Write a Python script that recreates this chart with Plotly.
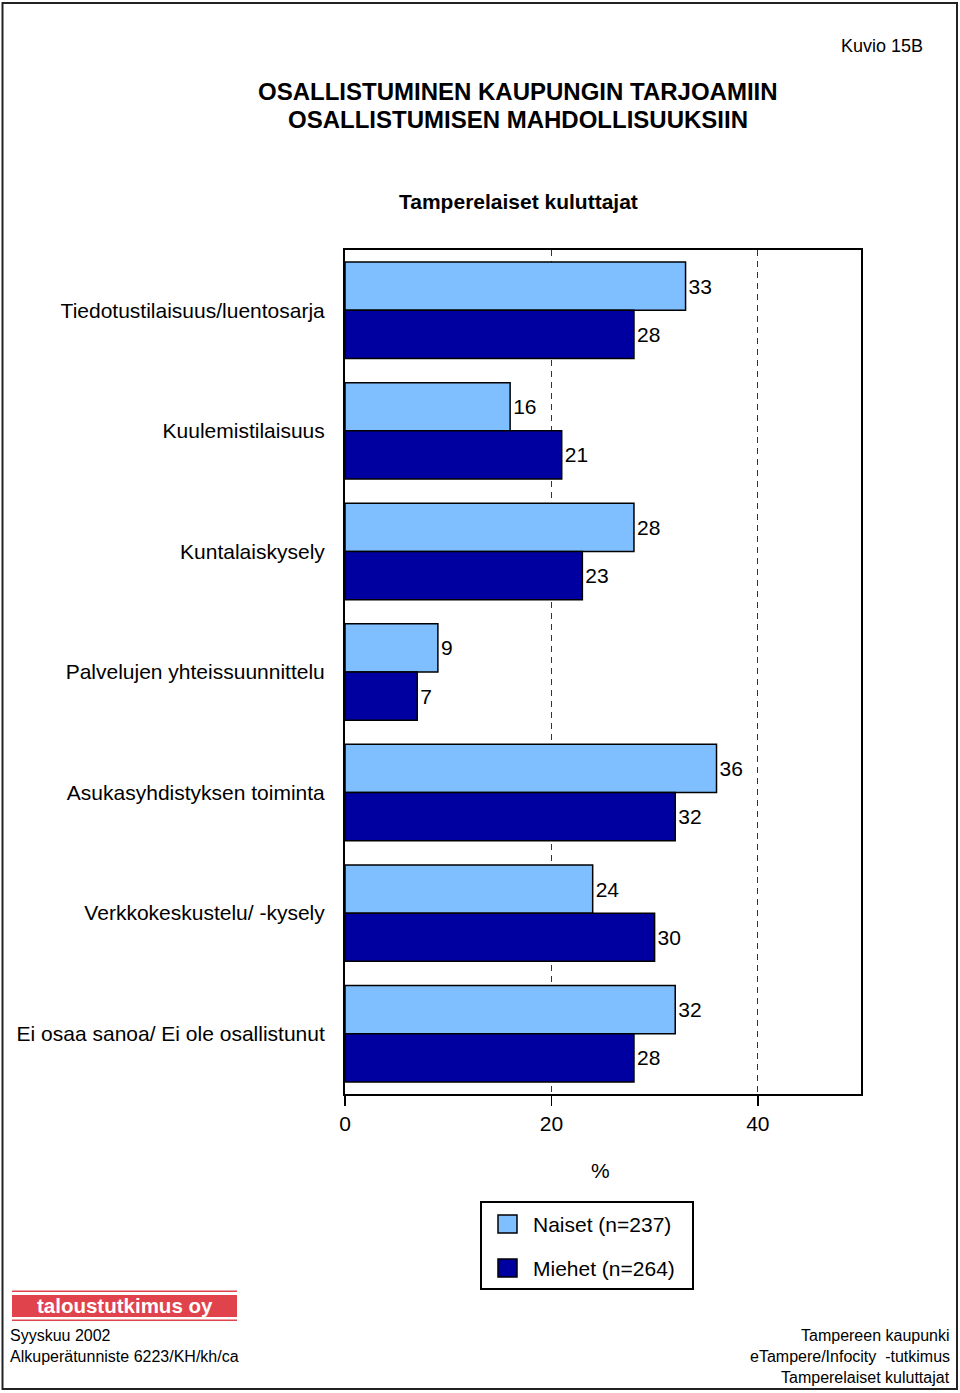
import plotly.graph_objects as go

categories = [
    "Tiedotustilaisuus/luentosarja",
    "Kuulemistilaisuus",
    "Kuntalaiskysely",
    "Palvelujen yhteissuunnittelu",
    "Asukasyhdistyksen toiminta",
    "Verkkokeskustelu/ -kysely",
    "Ei osaa sanoa/ Ei ole osallistunut",
]
naiset = [33, 16, 28, 9, 36, 24, 32]
miehet = [28, 21, 23, 7, 32, 30, 28]
series_names = ["Naiset (n=237)", "Miehet (n=264)"]
x_ticks = [0, 20, 40]

W, H = 960, 1393
L, R, T, B = 345, 861, 250, 1094          # plot area in page pixels
FONT = "Liberation Sans, Arial, sans-serif"
C_LIGHT = "#80BFFF"
C_DARK = "#0000A0"


def px(x):
    return (x - L) / (R - L)


def py(y):
    return (B - y) / (B - T)


fig = go.Figure()
fig.add_trace(go.Bar(y=categories, x=naiset, orientation="h", name=series_names[0],
                     marker=dict(color=C_LIGHT, line=dict(color="black", width=1.5)),
                     text=naiset, textposition="outside", cliponaxis=False,
                     textfont=dict(size=21, color="black", family=FONT)))
fig.add_trace(go.Bar(y=categories, x=miehet, orientation="h", name=series_names[1],
                     marker=dict(color=C_DARK, line=dict(color="black", width=1.5)),
                     text=miehet, textposition="outside", cliponaxis=False,
                     textfont=dict(size=21, color="black", family=FONT)))

shapes = []
annotations = []

# outer page border
shapes.append(dict(type="rect", xref="paper", yref="paper",
                   x0=px(2.5), x1=px(957), y0=py(1389), y1=py(3),
                   line=dict(color="#222", width=2), fillcolor="rgba(0,0,0,0)", layer="below"))


def text(x, y, s, size, anchor="center", color="black"):
    annotations.append(dict(xref="paper", yref="paper", x=px(x), y=py(y), text=s,
                            showarrow=False, xanchor=anchor, yanchor="middle",
                            font=dict(size=size, family=FONT, color=color)))


# titles
text(925, 46, "Kuvio 15B", 18, "right")
text(518, 91, "<b>OSALLISTUMINEN KAUPUNGIN TARJOAMIIN</b>", 24)
text(518, 119, "<b>OSALLISTUMISEN MAHDOLLISUUKSIIN</b>", 24)
text(518, 201, "<b>Tamperelaiset kuluttajat</b>", 21)
# axis title
text(600, 1170, "%", 21)

# legend
shapes.append(dict(type="rect", xref="paper", yref="paper",
                   x0=px(481), x1=px(693), y0=py(1289), y1=py(1202),
                   line=dict(color="black", width=2), fillcolor="white"))
for i, (nm, col) in enumerate(zip(series_names, [C_LIGHT, C_DARK])):
    cy = 1224 + i * 44
    shapes.append(dict(type="rect", xref="paper", yref="paper",
                       x0=px(498), x1=px(517), y0=py(cy + 9), y1=py(cy - 9),
                       line=dict(color="black", width=1.5), fillcolor=col))
    text(531, cy, nm, 21, "left")

# logo
LOGO_RED = "#E0434B"
for y0, y1 in [(1290.5, 1292), (1295, 1317), (1319.5, 1321)]:
    shapes.append(dict(type="rect", xref="paper", yref="paper",
                       x0=px(12), x1=px(237), y0=py(y1), y1=py(y0),
                       line=dict(width=0), fillcolor=LOGO_RED))
text(124.5, 1305.5, "<b>taloustutkimus oy</b>", 20.5, "center", "white")

# footer
for s, yy in [("Syyskuu 2002", 1335), ("Alkuperätunniste 6223/KH/kh/ca", 1356)]:
    text(8, yy, s, 16, "left")
for s, yy in [("Tampereen kaupunki", 1335), ("eTampere/Infocity  -tutkimus", 1356),
              ("Tamperelaiset kuluttajat", 1377)]:
    text(952, yy, s, 16, "right")

fig.update_layout(
    width=W, height=H, autosize=False,
    margin=dict(l=L, r=W - R, t=T, b=H - B, pad=0),
    paper_bgcolor="white", plot_bgcolor="white",
    barmode="group", bargap=0.2, bargroupgap=0,
    showlegend=False,
    font=dict(family=FONT, size=21, color="black"),
    shapes=shapes, annotations=annotations,
    xaxis=dict(range=[0, 50], tickvals=x_ticks, ticks="outside", ticklen=10,
               tickcolor="black", tickwidth=1.5,
               showgrid=True, gridcolor="#333", griddash="6px,5px", gridwidth=1,
               showline=True, linecolor="black", linewidth=2, mirror=True,
               zeroline=False, tickfont=dict(size=21, family=FONT),
               ticklabelstandoff=0, fixedrange=True),
    yaxis=dict(autorange="reversed", showgrid=False, showline=True, linecolor="black",
               linewidth=2, mirror=True, ticks="", ticklabelstandoff=14,
               tickfont=dict(size=21, family=FONT), fixedrange=True),
)

fig.write_html("out.html",
               config={"displayModeBar": False, "staticPlot": True},
               post_script="document.body.style.margin='0';document.body.style.overflow='hidden';")
